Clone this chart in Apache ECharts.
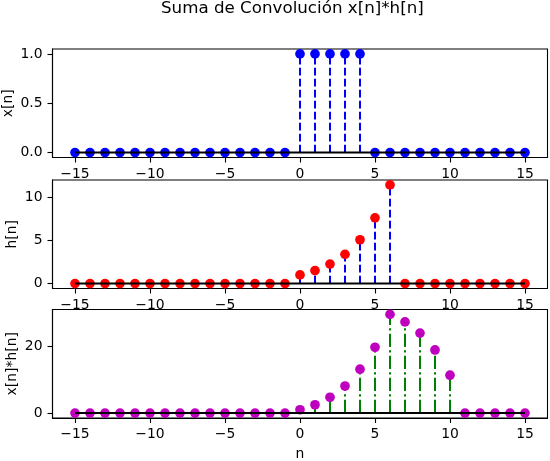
<!DOCTYPE html>
<html>
<head>
<meta charset="utf-8">
<script src="https://cdn.jsdelivr.net/npm/echarts@6/dist/echarts.min.js"></script>
<style>html,body{margin:0;padding:0;background:#fff}#c{width:550px;height:461px}</style>
</head>
<body>
<div id="c"></div>
<script>
var nVals = [-15,-14,-13,-12,-11,-10,-9,-8,-7,-6,-5,-4,-3,-2,-1,0,1,2,3,4,5,6,7,8,9,10,11,12,13,14,15];
var xVals = [0,0,0,0,0,0,0,0,0,0,0,0,0,0,0,1,1,1,1,1,0,0,0,0,0,0,0,0,0,0,0];
var hVals = [0,0,0,0,0,0,0,0,0,0,0,0,0,0,0,1,1.5,2.25,3.375,5.06,7.59,11.39,0,0,0,0,0,0,0,0,0];
var yVals = [0,0,0,0,0,0,0,0,0,0,0,0,0,0,0,1,2.5,4.75,8.13,13.19,19.78,29.67,27.42,24.05,18.98,11.39,0,0,0,0,0];
var xTicks = [-15,-10,-5,0,5,10,15];
var y1Ticks = [0,0.5,1];
var y2Ticks = [0,5,10];
var y3Ticks = [0,20];
var titleText = 'Suma de Convolución x[n]*h[n]';

function pairs(vals){ return nVals.map(function(n,i){ return [n, vals[i]]; }); }
var FONT = 'DejaVu Sans';
var FS = 13.9;
function minus(v){ return String(v).replace('-', '\u2212'); }

function stem(color, dash){
  return function(params, api){
    var n = api.value(0), v = api.value(1);
    var p0 = api.coord([n, 0]), p1 = api.coord([n, v]);
    return {type:'line', shape:{x1:p0[0], y1:p0[1], x2:p1[0], y2:p1[1]},
      style:{stroke:color, lineWidth:2, lineDash:dash, fill:null}};
  };
}

var grids = [
  {left:52.5, right:2.5, top:49, height:108.5},
  {left:52.5, right:2.5, top:180, height:108.5},
  {left:52.5, right:2.5, top:309.5, height:108.5}
];
grids.forEach(function(g){ g.show = true; g.borderColor = '#000'; g.borderWidth = 1.1; g.backgroundColor = 'transparent'; g.containLabel = false; g.outerBoundsMode = 'none'; });

function xAxis(i, name){
  return {type:'value', gridIndex:i, min:-16.5, max:16.5,
    name:name || '', nameLocation:'middle', nameGap:29, nameMoveOverlap:false,
    nameTextStyle:{fontFamily:FONT, fontSize:FS, color:'#000'},
    axisLine:{show:true, onZero:false, lineStyle:{color:'#000', width:1.1}},
    axisTick:{show:true, length:5, customValues:xTicks, lineStyle:{color:'#000', width:1.1}},
    axisLabel:{margin:9.5, customValues:xTicks, formatter:minus, fontFamily:FONT, fontSize:FS, color:'#000'},
    splitLine:{show:false}};
}
function yAxis(i, min, max, ticks, name, gap, fmt){
  return {type:'value', gridIndex:i, min:min, max:max,
    name:name, nameLocation:'middle', nameGap:gap, nameRotate:90, nameMoveOverlap:false,
    nameTextStyle:{fontFamily:FONT, fontSize:FS, color:'#000'},
    axisLine:{show:true, onZero:false, lineStyle:{color:'#000', width:1.1}},
    axisTick:{show:true, length:5, customValues:ticks, lineStyle:{color:'#000', width:1.1}},
    axisLabel:{margin:10, customValues:ticks, formatter:fmt, fontFamily:FONT, fontSize:FS, color:'#000'},
    splitLine:{show:false}};
}

var data = [xVals, hVals, yVals];
var markerColors = ['#0000ff', '#ff0000', '#bf00bf'];
var stemColors = ['#0000ff', '#0000ff', '#008000'];
var dashes = [[7.7,3.3],[7.7,3.3],[13.3,3.3,2.1,3.3]];

var series = [];
for (var i = 0; i < 3; i++) {
  series.push({type:'custom', xAxisIndex:i, yAxisIndex:i, data:pairs(data[i]),
    encode:{x:0, y:1}, renderItem:stem(stemColors[i], dashes[i]), z:2, silent:true});
  series.push({type:'scatter', xAxisIndex:i, yAxisIndex:i, data:pairs(data[i]),
    symbol:'circle', symbolSize:9.7, itemStyle:{color:markerColors[i], opacity:1}, z:3, silent:true});
  series.push({type:'line', xAxisIndex:i, yAxisIndex:i,
    data:[[nVals[0],0],[nVals[nVals.length-1],0]], showSymbol:false, symbol:'none',
    lineStyle:{color:'#000', width:2}, z:4, silent:true});
}

var chart = echarts.init(document.getElementById('c'), null, {renderer:'canvas'});
chart.setOption({
  animation:false,
  backgroundColor:'#fff',
  title:{text:titleText, left:161, top:0, padding:0,
    textStyle:{fontFamily:FONT, fontSize:16.7, fontWeight:'normal', color:'#000'}},
  grid:grids,
  xAxis:[xAxis(0), xAxis(1), xAxis(2, 'n')],
  yAxis:[
    yAxis(0, -0.05, 1.05, y1Ticks, 'x[n]', 37.5, function(v){ return v.toFixed(1); }),
    yAxis(1, -0.5695, 11.96, y2Ticks, 'h[n]', 33.5, function(v){ return String(v); }),
    yAxis(2, -1.4835, 31.15, y3Ticks, 'x[n]*h[n]', 33.5, function(v){ return String(v); })
  ],
  series:series
});
</script>
</body>
</html>
